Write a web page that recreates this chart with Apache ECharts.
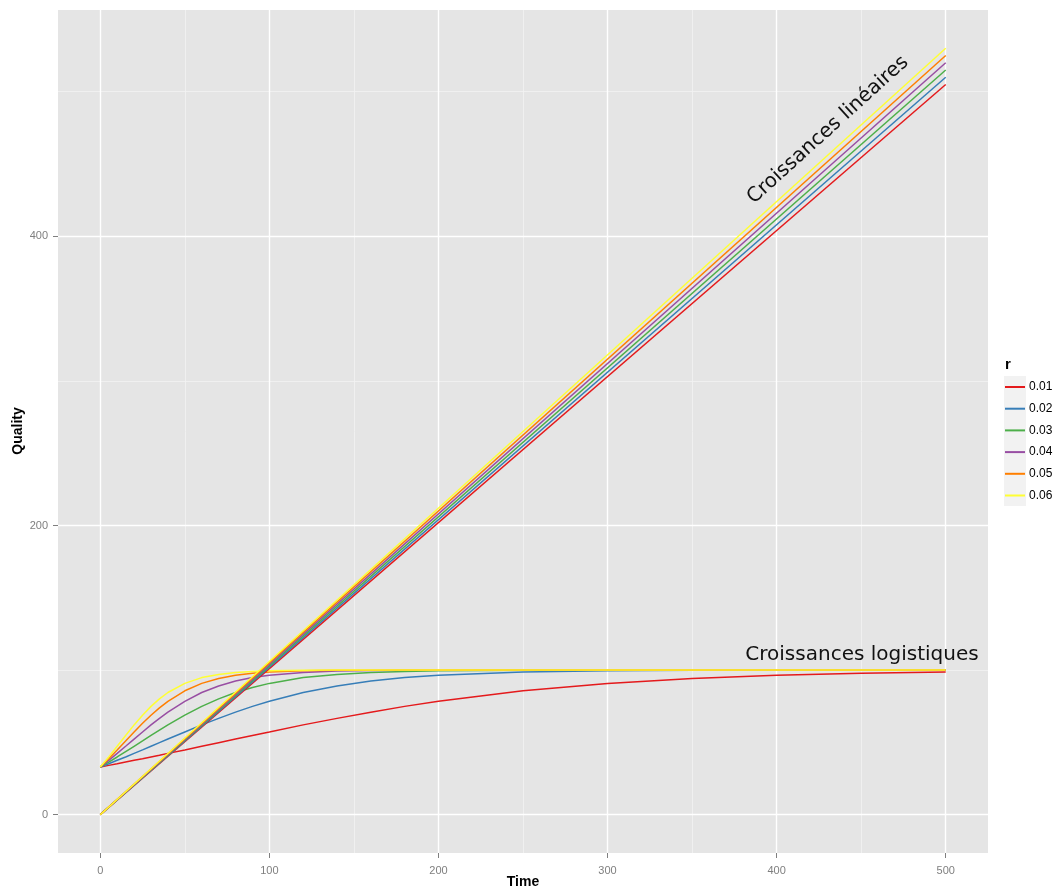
<!DOCTYPE html>
<html>
<head>
<meta charset="utf-8">
<script src="https://cdn.jsdelivr.net/npm/echarts@6/dist/echarts.min.js"></script>
<style>
html,body{margin:0;padding:0;background:#fff;}
#chart{width:1058px;height:894px;}
</style>
</head>
<body>
<div id="chart"></div>
<script>
// ---- data ----
const rLabels = ['0.01', '0.02', '0.03', '0.04', '0.05', '0.06'];
const colors = ['#E41A1C', '#377EB8', '#4DAF4A', '#984EA3', '#FF7F00', '#FFFF33'];

const times = [0,5,10,15,20,25,30,35,40,50,60,70,80,90,100,120,140,160,180,200,250,300,350,400,450,500];
const log01 = [33.0,34.1,35.2,36.4,37.6,38.7,39.9,41.1,42.4,44.8,47.3,49.8,52.3,54.8,57.2,62.1,66.6,70.9,74.9,78.4,85.7,90.8,94.2,96.4,97.8,98.7];
const log02 = [33.0,35.2,37.6,39.9,42.4,44.8,47.3,49.8,52.3,57.2,62.1,66.6,70.9,74.9,78.4,84.5,89.0,92.4,94.8,96.4,98.7,99.5,99.8,99.9,100,100];
const log03 = [33.0,36.4,39.9,43.6,47.3,51.0,54.8,58.5,62.1,68.8,74.9,80.1,84.5,88.0,90.8,94.8,97.0,98.4,99.1,99.5,99.9,100,100,100,100,100];
const log04 = [33.0,37.6,42.4,47.3,52.3,57.2,62.1,66.6,70.9,78.4,84.5,89.0,92.4,94.8,96.4,98.4,99.3,99.7,99.9,99.9,100,100,100,100,100,100];
const log05 = [33.0,38.7,44.8,51.0,57.2,63.2,68.8,73.9,78.4,85.7,90.8,94.2,96.4,97.8,98.7,99.5,99.8,99.9,100,100,100,100,100,100,100,100];
const log06 = [33.0,39.9,47.3,54.8,62.1,68.8,74.9,80.1,84.5,90.8,94.8,97.0,98.4,99.1,99.5,99.9,100,100,100,100,100,100,100,100,100,100];
const logistic = [log01, log02, log03, log04, log05, log06];

const linTimes = [0, 500];
const linStart = [0, 0, 0, 0, 0, 0];
const linEnd = [505, 510, 515, 520, 525, 530];

const xTicks = [0, 100, 200, 300, 400, 500];
const xMinor = [50, 150, 250, 350, 450];
const yTicks = [0, 200, 400];
const yMinor = [100, 300, 500];

// ---- build ----
const chart = echarts.init(document.getElementById('chart'), null, {renderer: 'canvas'});

const series = [];
// grid lines drawn through the axes' scales
series.push({
  type: 'line', name: '_grid', data: [], z: 0, silent: true,
  markLine: {
    z: 0, zlevel: 0,
    silent: true, symbol: 'none', animation: false,
    label: {show: false},
    data: [
      ...xMinor.map(v => ({xAxis: v, lineStyle: {color: '#F2F2F2', width: 0.8, type: 'solid'}})),
      ...yMinor.map(v => ({yAxis: v, lineStyle: {color: '#F2F2F2', width: 0.8, type: 'solid'}})),
      ...xTicks.map(v => ({xAxis: v, lineStyle: {color: '#FFFFFF', width: 1.4, type: 'solid'}})),
      ...yTicks.map(v => ({yAxis: v, lineStyle: {color: '#FFFFFF', width: 1.4, type: 'solid'}}))
    ]
  }
});
logistic.forEach((arr, i) => {
  series.push({
    type: 'line', name: rLabels[i], z: 3,
    data: times.map((t, k) => [t, arr[k]]),
    smooth: false, showSymbol: false, symbol: 'none',
    lineStyle: {color: colors[i], width: 1.5},
    itemStyle: {color: colors[i]},
    animation: false
  });
});
linEnd.forEach((v, i) => {
  series.push({
    type: 'line', name: rLabels[i], z: 3,
    data: [[linTimes[0], linStart[i]], [linTimes[1], v]],
    showSymbol: false, symbol: 'none',
    lineStyle: {color: colors[i], width: 1.5},
    itemStyle: {color: colors[i]},
    animation: false
  });
});

const axisLabelStyle = {color: '#7F7F7F', fontSize: 11, fontFamily: 'Liberation Sans, Arial, sans-serif'};

chart.setOption({
  animation: false,
  backgroundColor: '#FFFFFF',
  grid: {left: 58, right: 70, top: 10, bottom: 41, show: true, backgroundColor: '#E5E5E5', borderWidth: 0,
         containLabel: false, outerBoundsMode: 'none'},
  xAxis: {
    type: 'value', min: -25, max: 525,
    axisLine: {show: false, onZero: false},
    axisTick: {show: true, length: 5, customValues: xTicks, lineStyle: {color: '#7F7F7F', width: 1}},
    axisLabel: {customValues: xTicks, margin: 12, ...axisLabelStyle},
    splitLine: {show: false}
  },
  yAxis: {
    type: 'value', min: -26.5, max: 556.5,
    axisLine: {show: false, onZero: false},
    axisTick: {show: true, length: 5, customValues: yTicks, lineStyle: {color: '#7F7F7F', width: 1}},
    axisLabel: {customValues: yTicks, margin: 10, ...axisLabelStyle},
    splitLine: {show: false}
  },
  legend: {
    data: rLabels,
    orient: 'vertical', left: 1005, top: 380, padding: 0,
    itemWidth: 20, itemHeight: 2, itemGap: 7.7,
    icon: 'rect',
    textStyle: {color: '#000', fontSize: 12, lineHeight: 14, fontFamily: 'Liberation Sans, Arial, sans-serif', padding: [0, 0, 0, -1]},
    selectedMode: false
  },
  graphic: [
    {type: 'rect', z: -1, shape: {x: 1004, y: 376, width: 22, height: 130}, style: {fill: '#F2F2F2'}},
    {type: 'text', z: 100, left: 1005, top: 357, style: {text: 'r', font: 'bold 15px Liberation Sans, Arial, sans-serif', fill: '#000'}},
    {type: 'text', z: 100, x: 523, y: 882,
      style: {text: 'Time', font: 'bold 14px Liberation Sans, Arial, sans-serif', fill: '#000', textAlign: 'center', textVerticalAlign: 'middle'}},
    {type: 'text', z: 100, x: 18, y: 431, rotation: Math.PI / 2,
      style: {text: 'Quality', font: 'bold 14px Liberation Sans, Arial, sans-serif', fill: '#000', textAlign: 'center', textVerticalAlign: 'middle'}},
    {type: 'text', z: 100, x: 828, y: 130, rotation: 0.7365,
      style: {text: 'Croissances linéaires', font: '20px DejaVu Sans, sans-serif', fill: '#111', textAlign: 'center', textVerticalAlign: 'middle'}},
    {type: 'text', z: 100, x: 862, y: 655,
      style: {text: 'Croissances logistiques', font: '20px DejaVu Sans, sans-serif', fill: '#111', textAlign: 'center', textVerticalAlign: 'middle'}}
  ],
  series: series
});
</script>
</body>
</html>
